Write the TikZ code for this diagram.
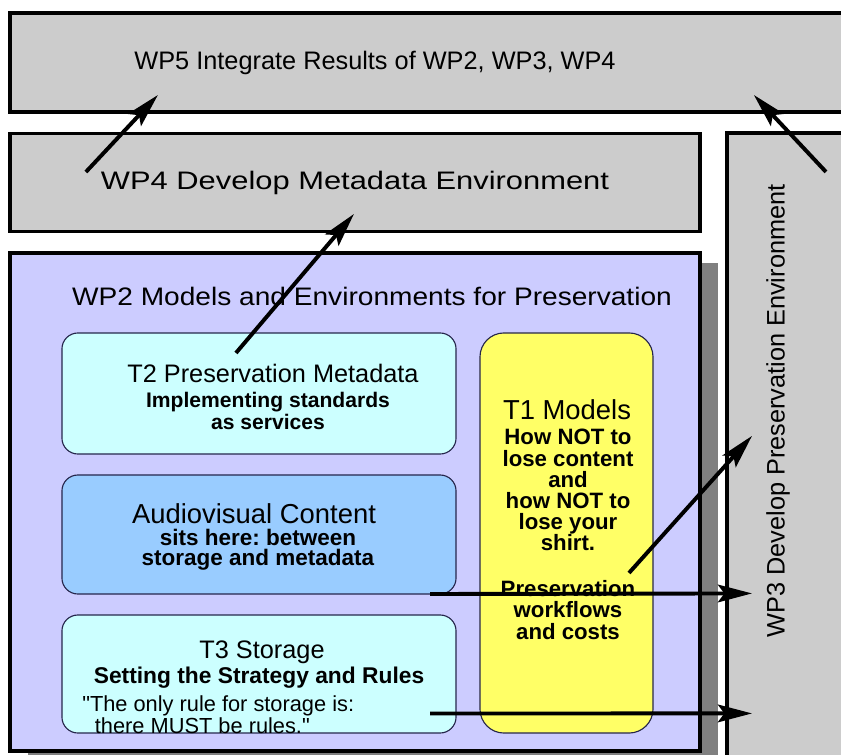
\documentclass[tikz,border=0pt]{standalone}
\usepackage{fontspec}
\setmainfont{Liberation Sans}
\usetikzlibrary{arrows.meta,positioning,shadows}
\definecolor{wpgray}{rgb}{0.8, 0.8, 0.8}
\definecolor{wplilac}{rgb}{0.8, 0.8, 1}
\definecolor{taskcyan}{rgb}{0.8, 1, 1}
\definecolor{taskblue}{rgb}{0.6, 0.8, 1}
\definecolor{taskyellow}{rgb}{1, 1, 0.4}
\definecolor{shadegray}{rgb}{0.5, 0.5, 0.5}
\definecolor{taskline}{rgb}{0.15, 0.15, 0.3}
\frenchspacing
\tikzset{
	wpbox/.style={
		rectangle,
		line width=2.8pt,
		draw=black,
		fill=wpgray,
		inner sep=0pt,
		outer sep=0pt
	},
	openbox/.style={
		rectangle,
		fill=wpgray,
		inner sep=0pt,
		outer sep=0pt
	},
	edgeline/.style={
		line width=2.8pt,
		line cap=rect,
		draw=black
	},
	taskbox/.style={
		rectangle,
		rounded corners=0.4cm,
		line width=0.8pt,
		draw=taskline,
		fill=taskcyan,
		inner sep=0pt,
		outer sep=0pt
	},
	arrow/.style={
		draw=black,
		line width=2.8pt,
		-{Stealth[length=8.5mm,width=4.4mm,inset=1.6mm]}
	},
	wptext/.style={
		font=\fontsize{18}{21}\selectfont,
		inner sep=0pt
	},
	tasktitle/.style={
		font=\fontsize{18}{21}\selectfont,
		inner sep=0pt
	},
	tasktext/.style={
		font=\fontsize{15}{14}\selectfont\bfseries,
		align=center,
		inner sep=0pt
	},
	quotetext/.style={
		font=\fontsize{15.5}{15.5}\selectfont,
		align=left,
		inner sep=0pt
	},
}

\begin{document}
\begin{tikzpicture}[x=0.025cm,y=-0.025cm]
\useasboundingbox (0,0) rectangle (841,755);

% work packages, WP5 and WP3 run off the page
\node [openbox,minimum width=20.775cm,minimum height=2.475cm] (wp5) at (425.5,62.5) {};
\draw [edgeline] (wp5.north east) -- (wp5.north west) -- (wp5.south west) -- (wp5.south east);
\node [wptext] (l5) at (375,63) {WP5 Integrate Results of WP2, WP3, WP4};
\node [wpbox,minimum width=17.25cm,minimum height=2.45cm,wptext] (wp4) at (355,182.5) {\scalebox{1.22}[1]{WP4 Develop Metadata Environment}};
\node [openbox,minimum width=2.85cm,minimum height=15.55cm] (wp3) at (784,444) {};
\draw [edgeline] (wp3.north east) -- (wp3.north west) -- (wp3.south west);
\node [wptext,rotate=90] (l3) at (778,411) {WP3 Develop Preservation Environment};
\node [wpbox,fill=wplilac,minimum width=17.25cm,minimum height=12.44cm,
	drop shadow={shadow xshift=0.45cm,shadow yshift=-0.24cm,fill=shadegray,opacity=1}] (wp2) at (355,502.25) {};
\node [wptext] (l2) at (372,296) {\scalebox{1.11}[1]{WP2 Models and Environments for Preservation}};

% tasks
\node [taskbox,minimum width=9.85cm,minimum height=3.025cm] (t2) at (259,393.5) {};
\node [tasktitle] (l21) at (273,373) {T2 Preservation Metadata};
\node [tasktext] (l22) at (268,411) {Implementing standards\\as services};

\node [taskbox,fill=taskblue,minimum width=9.85cm,minimum height=2.975cm] (av) at (259,534.5) {};
\node [tasktitle,font=\fontsize{19.5}{21}\selectfont] (la1) at (254,514) {Audiovisual Content};
\node [tasktext,font=\fontsize{16}{14.5}\selectfont\bfseries] (la2) at (258,550) {sits here: between\\storage and metadata};

\node [taskbox,minimum width=9.85cm,minimum height=2.95cm] (t3) at (259,674) {};
\node [tasktitle] (l31) at (262,652) {T3 Storage};
\node [tasktext,font=\fontsize{16.2}{14}\selectfont\bfseries] (l32) at (259,678) {Setting the Strategy and Rules};
\node [quotetext,anchor=west] (l33) at (82,715) {\textquotedbl The only rule for storage is:\\\hspace*{9pt}there MUST be rules.\textquotedbl};

\node [taskbox,fill=taskyellow,rounded corners=0.6cm,minimum width=4.325cm,minimum height=10cm] (t1) at (566.5,533) {};
\node [tasktitle,font=\fontsize{19.5}{21}\selectfont] (l11) at (567,410) {T1 Models};
\node [tasktext,font=\fontsize{15.8}{15}\selectfont\bfseries] (l12) at (568,490) {How NOT to\\lose content\\and\\how NOT to\\lose your\\shirt.};
\node [tasktext,font=\fontsize{15.8}{15}\selectfont\bfseries] (l13) at (568,610) {Preservation\\workflows\\and costs};

% results flow
\draw [arrow] ([shift={(76,38.5)}]wp4.north west) -- ([shift={(148,-17)}]wp5.south west);
\draw [arrow] ([shift={(99,39)}]wp3.north west) -- ([shift={(744,-17)}]wp5.south west);
\draw [arrow] ([shift={(174,20)}]t2.north west) -- ([shift={(344,-17.5)}]wp4.south west);
\draw [arrow] ([shift={(149,240)}]t1.north west) -- ([shift={(25,303)}]wp3.north west);
\draw [arrow] ([shift={(-26,0)}]av.south east) -- ([shift={(25,460.5)}]wp3.north west);
\draw [arrow] ([shift={(-26,-19.5)}]t3.south east) -- ([shift={(25,580.5)}]wp3.north west);
\end{tikzpicture}
\end{document}
